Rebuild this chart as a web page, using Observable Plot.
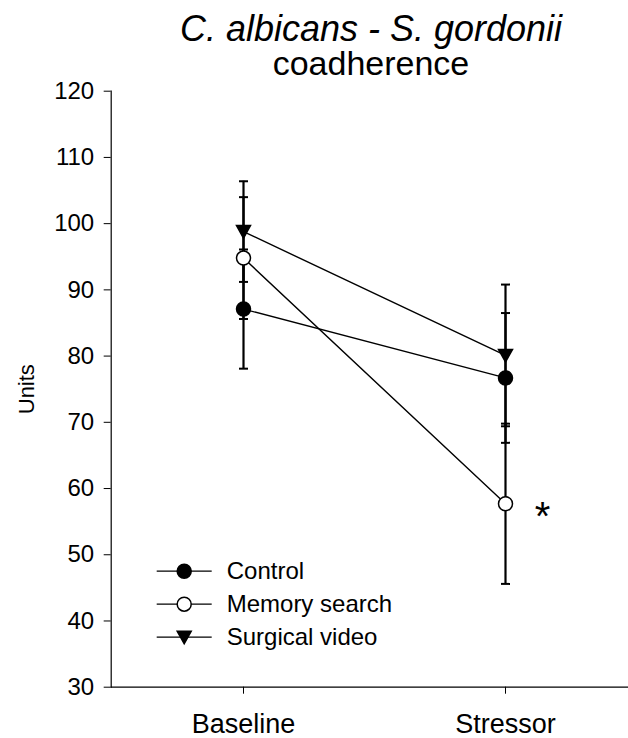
<!DOCTYPE html>
<html>
<head>
<meta charset="utf-8">
<script src="https://cdn.jsdelivr.net/npm/d3@7"></script>
<script src="https://cdn.jsdelivr.net/npm/@observablehq/plot@0.6"></script>
<style>
  body { margin: 0; background: #fff; font-family: "Liberation Sans", Arial, sans-serif; color: #000; }
  #wrap { position: relative; width: 628px; height: 738px; }
  #title { position: absolute; left: 0; top: 0; width: 628px; box-sizing: border-box; padding-top: 11px; padding-left: 114px; text-align: center; }
  #title .l1 { font-size: 36px; line-height: 35px; height: 35px; font-style: italic; white-space: nowrap; }
  #title .l2 { font-size: 34px; line-height: 34px; height: 34px; white-space: nowrap; }
  #chart svg { display: block; }
</style>
</head>
<body>
<div id="wrap">
<div id="chart"></div>
<div id="title"><div class="l1">C. albicans - S. gordonii</div><div class="l2">coadherence</div></div>
</div>
<script>
// ---- data ----
const phases = ["Baseline", "Stressor"];
const groups = ["Control", "Memory search", "Surgical video"];
const controlMean = [87.1, 76.7];
const controlErr  = [9.0, 9.8];
const memoryMean  = [94.8, 57.7];
const memoryErr   = [9.2, 12.1];
const videoMean   = [98.8, 80.1];
const videoErr    = [7.6, 10.7];
const yTicks = [30, 40, 50, 60, 70, 80, 90, 100, 110, 120];
const yLabel = "Units";
const significant = [{phase: "Stressor", group: "Memory search", label: "*"}];

// ---- build table ----
const means = [controlMean, memoryMean, videoMean];
const errs = [controlErr, memoryErr, videoErr];
const rows = [];
groups.forEach((g, gi) => phases.forEach((p, pi) => rows.push({group: g, phase: p, mean: means[gi][pi], err: errs[gi][pi]})));
const caps = rows.flatMap(d => [{phase: d.phase, v: d.mean - d.err}, {phase: d.phase, v: d.mean + d.err}]);
const sigRows = significant.map(s => ({...s, mean: rows.find(r => r.phase === s.phase && r.group === s.group).mean}));

// ---- symbols ----
const capSymbol = {draw(ctx) { ctx.moveTo(-4.5, 0); ctx.lineTo(4.5, 0); }};
const triDown = {draw(ctx) { ctx.moveTo(-7, -6); ctx.lineTo(7, -6); ctx.lineTo(0, 6.5); ctx.closePath(); }};
const legendLine = {draw(ctx) { ctx.moveTo(-27.5, 0); ctx.lineTo(27.5, 0); }};
const styles = {
  "Control": {symbol: "circle", fill: "black", r: 7},
  "Memory search": {symbol: "circle", fill: "white", r: 7},
  "Surgical video": {symbol: triDown, fill: "black", r: 7}
};
const legendDy = [480, 513, 546];

const marks = [
  Plot.ruleY([30], {stroke: "black", strokeWidth: 1.2}),
  Plot.frame({anchor: "left", stroke: "black", strokeWidth: 1.2}),
  Plot.axisY({ticks: yTicks, tickSize: 7, tickPadding: 10, fontSize: 24, label: null}),
  Plot.axisX({tickSize: 7, tickPadding: 20, fontSize: 27, label: null}),
  Plot.text([yLabel], {frameAnchor: "left", dx: -84.7, rotate: -90, fontSize: 22, textAnchor: "middle", lineAnchor: "middle"}),
  Plot.line(rows, {x: "phase", y: "mean", z: "group", stroke: "black", strokeWidth: 1.4}),
  Plot.ruleX(rows, {x: "phase", y1: d => d.mean - d.err, y2: d => d.mean + d.err, stroke: "black", strokeWidth: 2.2}),
  Plot.dot(caps, {x: "phase", y: "v", symbol: capSymbol, stroke: "black", strokeWidth: 2, fill: "none"}),
  ...groups.map(g => Plot.dot(rows.filter(d => d.group === g), {
    x: "phase", y: "mean", symbol: styles[g].symbol, r: styles[g].r, fill: styles[g].fill, stroke: "black", strokeWidth: 1.5
  })),
  Plot.text(sigRows, {x: "phase", y: "mean", text: "label", dx: 37, dy: 13, fontSize: 40, lineAnchor: "middle"}),
  // legend
  ...groups.flatMap((g, i) => [
    Plot.dot([g], {x: null, y: null, frameAnchor: "top-left", dx: 73, dy: legendDy[i], symbol: legendLine, stroke: "black", strokeWidth: 1.3, fill: "none"}),
    Plot.dot([g], {x: null, y: null, frameAnchor: "top-left", dx: 73, dy: legendDy[i], symbol: styles[g].symbol, r: styles[g].r, fill: styles[g].fill, stroke: "black", strokeWidth: 1.5}),
    Plot.text([g], {x: null, y: null, frameAnchor: "top-left", dx: 115.5, dy: legendDy[i], text: d => d, fontSize: 24, textAnchor: "start", lineAnchor: "middle"})
  ])
];

const chart = Plot.plot({
  width: 628,
  height: 738,
  marginTop: 90.7,
  marginBottom: 51.3,
  marginLeft: 110.7,
  marginRight: 0,
  style: {fontFamily: "'Liberation Sans', Arial, sans-serif", color: "black", background: "white"},
  x: {type: "point", domain: phases, range: [242.5, 505], padding: 0},
  y: {domain: [30, 120]},
  marks
});
document.getElementById("chart").appendChild(chart);
</script>
</body>
</html>
